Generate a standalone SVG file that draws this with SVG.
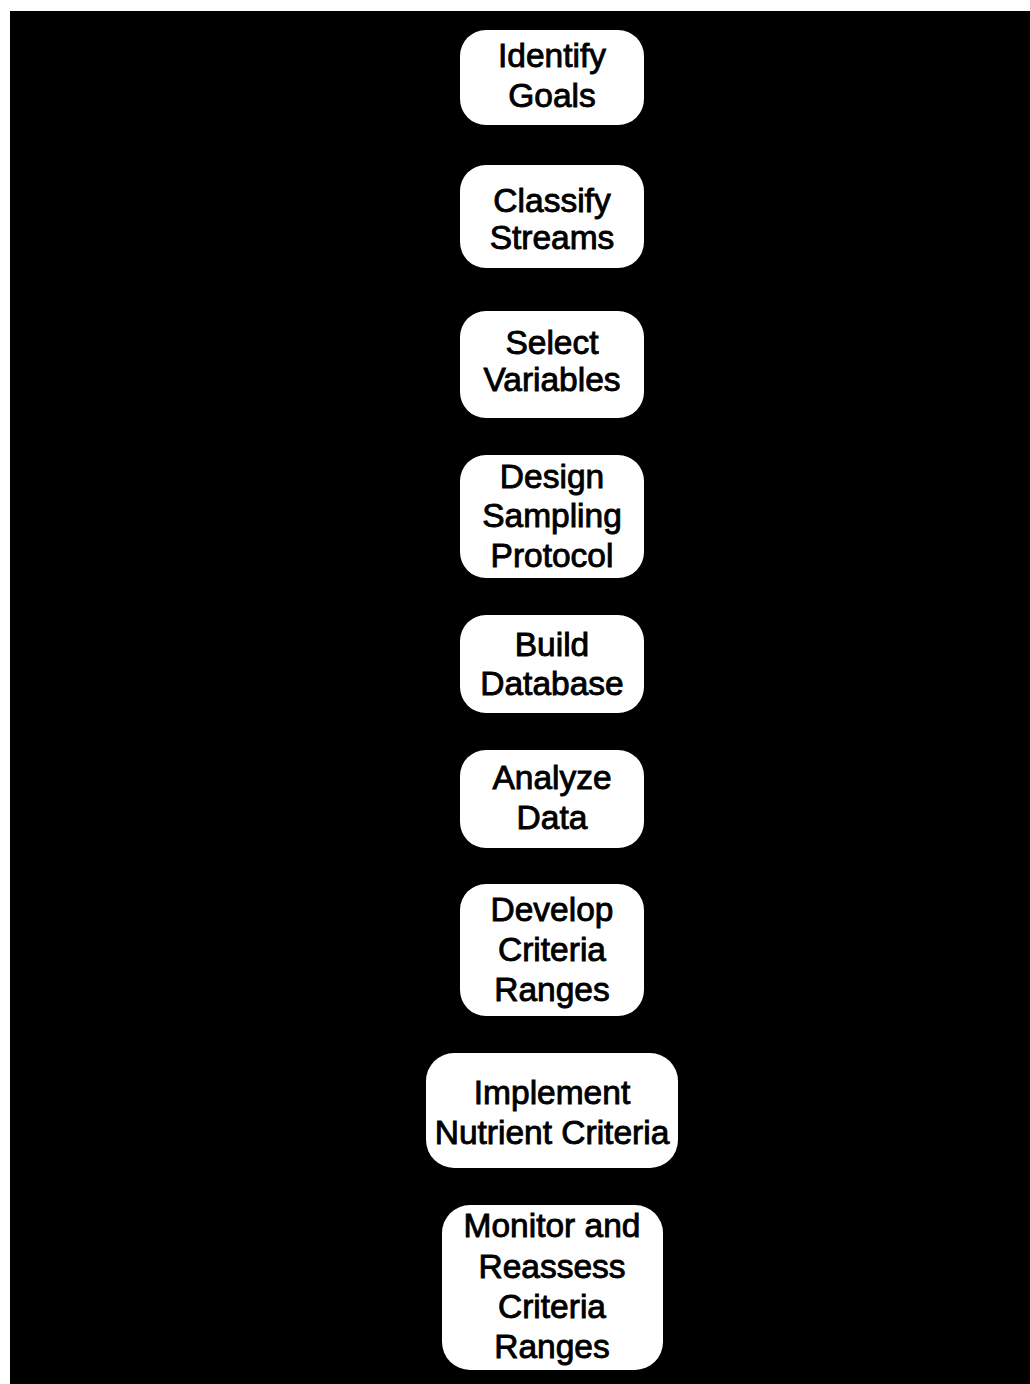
<svg xmlns="http://www.w3.org/2000/svg" width="1030" height="1384" viewBox="0 0 1030 1384">
  <style>
    .box { fill: #ffffff; }
    .lbl { font-family: "Liberation Sans", Arial, Helvetica, sans-serif; font-size: 33.5px; fill: #000000; stroke: #000000; stroke-width: 0.9; text-anchor: middle; }
  </style>
  <!-- page margin and dark panel -->
  <rect x="0" y="0" width="1030" height="1384" fill="#ffffff"/>
  <rect x="10" y="11" width="1020" height="1373" fill="#000000"/>

  <g id="connectors"></g>

  <g id="identify-goals">
    <rect class="box" x="460" y="30" width="184" height="95" rx="26"/>
    <text class="lbl" x="552" y="67">Identify</text>
    <text class="lbl" x="552" y="107">Goals</text>
  </g>

  <g id="classify-streams">
    <rect class="box" x="460" y="165" width="184" height="103" rx="26"/>
    <text class="lbl" x="552" y="212">Classify</text>
    <text class="lbl" x="552" y="249">Streams</text>
  </g>

  <g id="select-variables">
    <rect class="box" x="460" y="311" width="184" height="107" rx="26"/>
    <text class="lbl" x="552" y="354">Select</text>
    <text class="lbl" x="552" y="391">Variables</text>
  </g>

  <g id="design-sampling-protocol">
    <rect class="box" x="460" y="455" width="184" height="123" rx="26"/>
    <text class="lbl" x="552" y="488">Design</text>
    <text class="lbl" x="552" y="527">Sampling</text>
    <text class="lbl" x="552" y="567">Protocol</text>
  </g>

  <g id="build-database">
    <rect class="box" x="460" y="615" width="184" height="98" rx="26"/>
    <text class="lbl" x="552" y="656">Build</text>
    <text class="lbl" x="552" y="695">Database</text>
  </g>

  <g id="analyze-data">
    <rect class="box" x="460" y="750" width="184" height="98" rx="26"/>
    <text class="lbl" x="552" y="789">Analyze</text>
    <text class="lbl" x="552" y="829">Data</text>
  </g>

  <g id="develop-criteria-ranges">
    <rect class="box" x="460" y="884" width="184" height="132" rx="26"/>
    <text class="lbl" x="552" y="921">Develop</text>
    <text class="lbl" x="552" y="961">Criteria</text>
    <text class="lbl" x="552" y="1001">Ranges</text>
  </g>

  <g id="implement-nutrient-criteria">
    <rect class="box" x="426" y="1053" width="252" height="115" rx="28"/>
    <text class="lbl" x="552" y="1104">Implement</text>
    <text class="lbl" x="552" y="1144">Nutrient Criteria</text>
  </g>

  <g id="monitor-reassess">
    <rect class="box" x="442" y="1205" width="221" height="165" rx="28"/>
    <text class="lbl" x="552" y="1237">Monitor and</text>
    <text class="lbl" x="552" y="1278">Reassess</text>
    <text class="lbl" x="552" y="1318">Criteria</text>
    <text class="lbl" x="552" y="1358">Ranges</text>
  </g>
</svg>
